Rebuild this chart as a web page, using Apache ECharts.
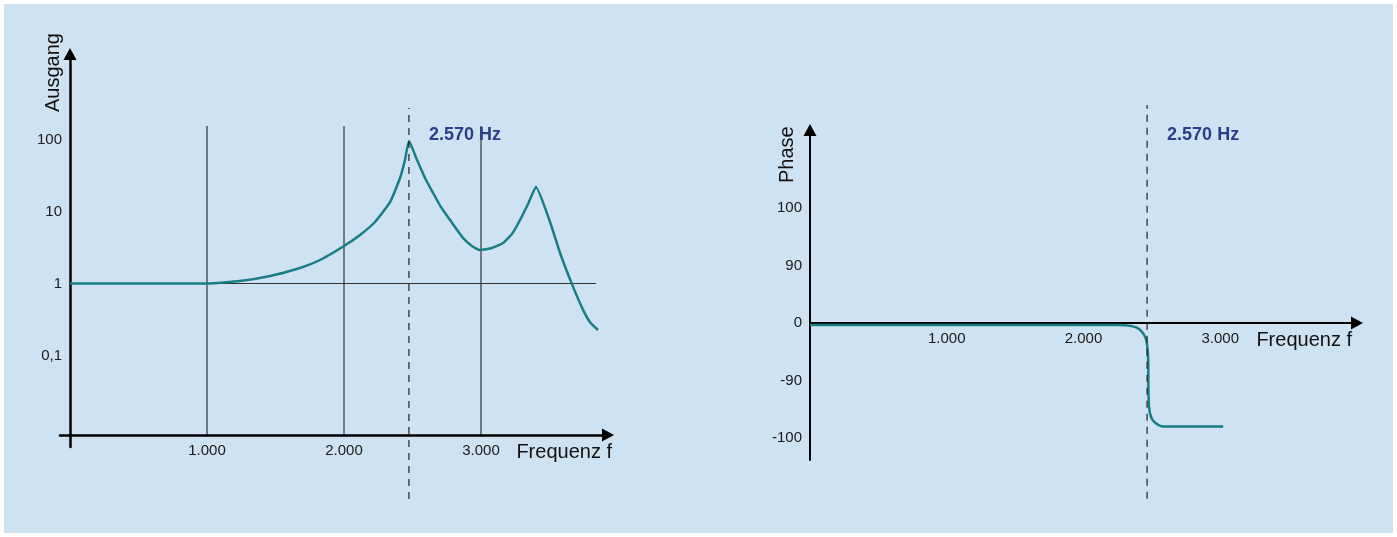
<!DOCTYPE html>
<html>
<head>
<meta charset="utf-8">
<script src="https://cdn.jsdelivr.net/npm/echarts@6/dist/echarts.min.js"></script>
<style>
  html, body { margin: 0; padding: 0; background: #fff; }
  #panel { position: absolute; left: 4px; top: 4px; width: 1389px; height: 529px; background: #cfe2f1; }
  #chart { position: absolute; left: 0; top: 0; width: 1397px; height: 537px; }
</style>
</head>
<body>
<div id="panel"></div>
<div id="chart"></div>
<script>
// Amplitudengang (log) links, Phasengang rechts
const freqTicks = [1000, 2000, 3000]
const ampTicks = [0.1, 1, 10, 100]
const ampTickLabels = ['0,1', '1', '10', '100']
const phaseTicks = [-180, -90, 0, 90, 180]
const phaseTickLabels = ['-100', '-90', '0', '90', '100']

const ampFreq = [0, 1000, 1241, 1460, 1679, 1825, 2000, 2117, 2226, 2336, 2409, 2445, 2474,
  2533, 2591, 2650, 2708, 2774, 2869, 2934, 2993, 3080, 3161, 3226, 3285, 3343, 3401,
  3504, 3577, 3664, 3745, 3796, 3854]
const ampValue = [1, 1, 1.08, 1.27, 1.64, 2.12, 3.32, 4.72, 7.15, 13.5, 29.2, 51.9, 95,
  51.9, 29.2, 18.1, 11.5, 7.62, 4.29, 3.32, 2.92, 3.11, 3.65, 4.87, 7.62, 12.7, 21.9,
  7.15, 2.65, 0.98, 0.43, 0.29, 0.226]

const phaseFreq = [0, 2253, 2326, 2385, 2421, 2451, 2465, 2473, 2475, 2480, 2494, 2524, 2582, 3021]
const phaseValue = [-3, -3, -4, -7, -12.5, -22, -34, -58, -105, -133, -147, -156, -162, -162]

const resonanceAmp = 2474
const resonancePhase = 2465
const resonanceLabel = '2.570 Hz'

const teal = '#177f83'
const font = 'Liberation Sans, Arial, sans-serif'

const pairs = (xs, ys) => xs.map((x, i) => [x, ys[i]])

const thinLine = (data, color) => ({
    type: 'line',
    xAxisIndex: 0,
    yAxisIndex: 0,
    data: data,
    symbol: 'none',
    silent: true,
    z: 1,
    lineStyle: { color: color, width: 1 }
})

const ampLabel = (v) => {
    const i = ampTicks.findIndex(t => Math.abs(Math.log10(v) - Math.log10(t)) < 1e-6)
    return i < 0 ? '' : ampTickLabels[i]
}

const phaseLabel = (v) => {
    const i = phaseTicks.indexOf(Math.round(v))
    return i < 0 ? '' : phaseTickLabels[i]
}

const freqLabel = (v) => (v / 1000).toFixed(3)

const axisLine = (width) => ({
    show: true,
    onZero: false,
    symbol: ['none', 'triangle'],
    symbolSize: [13, 12],
    lineStyle: { color: '#000', width: width }
})

const freqName = (gap) => ({
    name: 'Frequenz f',
    nameLocation: 'end',
    nameGap: gap,
    nameTextStyle: { fontSize: 20, color: '#111', align: 'right', verticalAlign: 'top', padding: [7, 0, 0, 0] }
})

const dashed = (xi, freq, lo, hi, labelY) => ({
    type: 'line',
    xAxisIndex: xi,
    yAxisIndex: xi,
    data: [[freq, lo], [freq, hi]],
    symbol: 'none',
    clip: false,
    silent: true,
    z: 3,
    lineStyle: { color: '#222', width: 1.2, type: [7, 6] },
    markPoint: {
        symbol: 'circle',
        symbolSize: 0,
        silent: true,
        data: [{
            coord: [freq, labelY],
            label: {
                show: true,
                formatter: resonanceLabel,
                position: 'right',
                distance: 20,
                fontSize: 18,
                fontWeight: 'bold',
                color: '#2c3c86'
            }
        }]
    }
})

const option = {
    animation: false,
    backgroundColor: 'transparent',
    textStyle: { fontFamily: font },
    grid: [
        { left: 60, right: 789, top: 54, bottom: 90, outerBoundsMode: 'none' },
        { left: 810, right: 40, top: 130, bottom: 77, outerBoundsMode: 'none' }
    ],
    xAxis: [{
        gridIndex: 0,
        type: 'value',
        min: -73,
        max: 3927,
        offset: -12,
        axisLine: axisLine(2.5),
        axisTick: { show: false },
        splitLine: { show: false },
        axisLabel: { customValues: freqTicks, formatter: freqLabel, fontSize: 15, color: '#1a1a1a', margin: 8 },
        ...freqName(4)
    }, {
        gridIndex: 1,
        type: 'value',
        min: 0,
        max: 4000,
        offset: -137,
        axisLine: axisLine(2),
        axisTick: { show: false },
        splitLine: { show: false },
        axisLabel: { customValues: freqTicks, formatter: freqLabel, fontSize: 15, color: '#1a1a1a', margin: 8 },
        ...freqName(-5)
    }],
    yAxis: [{
        gridIndex: 0,
        type: 'log',
        logBase: 10,
        min: 0.00536,
        max: 1540,
        offset: -10,
        axisLine: axisLine(2.5),
        axisTick: { show: false },
        splitLine: { show: false },
        axisLabel: { formatter: ampLabel, fontSize: 15, color: '#1a1a1a', margin: 8 },
        name: 'Ausgang',
        nameLocation: 'end',
        nameRotate: 90,
        nameGap: -58,
        nameTextStyle: { fontSize: 20, color: '#111', align: 'left', verticalAlign: 'bottom', padding: [0, 0, 7, 0] }
    }, {
        gridIndex: 1,
        type: 'value',
        min: -214.4,
        max: 302,
        axisLine: axisLine(2),
        axisTick: { show: false },
        splitLine: { show: false },
        axisLabel: { customValues: phaseTicks, formatter: phaseLabel, fontSize: 15, color: '#1a1a1a', margin: 8 },
        name: 'Phase',
        nameLocation: 'end',
        nameRotate: 90,
        nameGap: -53,
        nameTextStyle: { fontSize: 20, color: '#111', align: 'left', verticalAlign: 'bottom', padding: [0, 0, 13, 0] }
    }],
    series: [
        ...freqTicks.map(f => thinLine([[f, 0.00787], [f, 154]], '#111')),
        thinLine([[0, 1], [3839, 1]], '#333'),
        {
            type: 'line',
            xAxisIndex: 0,
            yAxisIndex: 0,
            data: pairs(ampFreq, ampValue),
            symbol: 'none',
            smooth: 0.15,
            z: 2,
            lineStyle: { color: teal, width: 2.5 }
        },
        dashed(0, resonanceAmp, 0.00102, 274, 115.5),
        {
            type: 'line',
            xAxisIndex: 1,
            yAxisIndex: 1,
            data: pairs(phaseFreq, phaseValue),
            symbol: 'none',
            smooth: 0.3,
            z: 2,
            lineStyle: { color: teal, width: 2.5 }
        },
        dashed(1, resonancePhase, -275, 341, 294)
    ]
}

const chart = echarts.init(document.getElementById('chart'))
chart.setOption(option)
</script>
</body>
</html>
